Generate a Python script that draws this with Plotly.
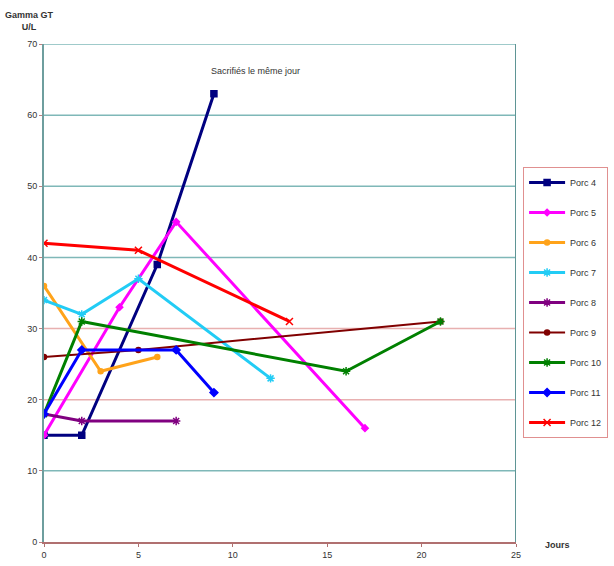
import plotly.graph_objects as go

# Gamma GT (U/L) per pig over days
porc4_x = [0, 2, 6, 9]
porc4_y = [15, 15, 39, 63]
porc5_x = [0, 4, 7, 17]
porc5_y = [15, 33, 45, 16]
porc6_x = [0, 3, 6]
porc6_y = [36, 24, 26]
porc7_x = [0, 2, 5, 12]
porc7_y = [34, 32, 37, 23]
porc8_x = [0, 2, 7]
porc8_y = [18, 17, 17]
porc9_x = [0, 5, 21]
porc9_y = [26, 27, 31]
porc10_x = [0, 2, 16, 21]
porc10_y = [18, 31, 24, 31]
porc11_x = [0, 2, 7, 9]
porc11_y = [18, 27, 27, 21]
porc12_x = [0, 5, 13]
porc12_y = [42, 41, 31]

x_ticks = [0, 5, 10, 15, 20, 25]
y_ticks = [0, 10, 20, 30, 40, 50, 60, 70]

series = [
    ("Porc 4", porc4_x, porc4_y, "#000080", "square", 6, 3),
    ("Porc 5", porc5_x, porc5_y, "#ff00ff", "diamond", 5, 3),
    ("Porc 6", porc6_x, porc6_y, "#ffa31a", "circle", 5, 3),
    ("Porc 7", porc7_x, porc7_y, "#22ccf5", "asterisk-open", 7, 3),
    ("Porc 8", porc8_x, porc8_y, "#800080", "asterisk-open", 7, 3),
    ("Porc 9", porc9_x, porc9_y, "#800000", "circle", 5, 2),
    ("Porc 10", porc10_x, porc10_y, "#008000", "asterisk-open", 7, 3),
    ("Porc 11", porc11_x, porc11_y, "#0000ff", "diamond", 6, 3),
    ("Porc 12", porc12_x, porc12_y, "#ff0000", "x-thin-open", 7, 3),
]

fig = go.Figure()
for i, (name, xs, ys, color, symbol, msize, lw) in enumerate(series):
    fig.add_trace(go.Scatter(
        x=xs, y=ys, name=name, mode="lines+markers",
        legendgroup=f"g{i}",
        line=dict(color=color, width=lw),
        marker=dict(symbol=symbol, size=msize, color=color,
                    line=dict(color=color, width=1.5)),
    ))

# horizontal grid lines, two of them tinted pink
grid_colors = {10: "#7fb8b8", 20: "#e8b0b0", 30: "#e8b0b0",
               40: "#7fb8b8", 50: "#7fb8b8", 60: "#7fb8b8", 70: "#7fb8b8"}
for yv, c in grid_colors.items():
    fig.add_shape(type="line", xref="x", yref="y", x0=0, x1=25, y0=yv, y1=yv,
                  line=dict(color=c, width=1.5), layer="below")
# right border of the plot area
fig.add_shape(type="line", xref="x", yref="y", x0=25, x1=25, y0=0, y1=70,
              line=dict(color="#5f9595", width=2), layer="above")

fig.add_annotation(x=11.2, y=66.2, xref="x", yref="y",
                   text="Sacrifiés le même jour", showarrow=False,
                   font=dict(size=9, color="#333333"))
fig.add_annotation(x=-0.03, y=1.046, xref="paper", yref="paper",
                   xanchor="center", yanchor="middle",
                   text="<b>Gamma GT<br>U/L</b>", showarrow=False,
                   font=dict(size=9, color="#333333"))
fig.add_annotation(x=1.087, y=-0.006, xref="paper", yref="paper",
                   xanchor="center", yanchor="middle",
                   text="<b>Jours</b>", showarrow=False,
                   font=dict(size=9, color="#333333"))

fig.update_layout(
    width=614, height=566,
    margin=dict(l=44, r=98, t=44, b=24, autoexpand=False),
    paper_bgcolor="white", plot_bgcolor="white",
    font=dict(family="Liberation Sans, Arial, sans-serif", size=9, color="#333333"),
    showlegend=True,
    legend=dict(x=1.015, y=0.753, xanchor="left", yanchor="top",
                bgcolor="white", bordercolor="#e09090", borderwidth=1,
                font=dict(size=9, color="#333333"),
                tracegroupgap=11, itemwidth=36),
    xaxis=dict(range=[0, 25], tickvals=x_ticks, showgrid=False, zeroline=False,
               showline=True, linecolor="#b07070", linewidth=2,
               ticks="outside", ticklen=3, tickcolor="#b07070"),
    yaxis=dict(range=[0, 70], tickvals=y_ticks, showgrid=False, zeroline=False,
               showline=True, linecolor="#6e9e9e", linewidth=2,
               ticks="outside", ticklen=3, tickcolor="#c08080"),
)

fig.write_html("out.html")
